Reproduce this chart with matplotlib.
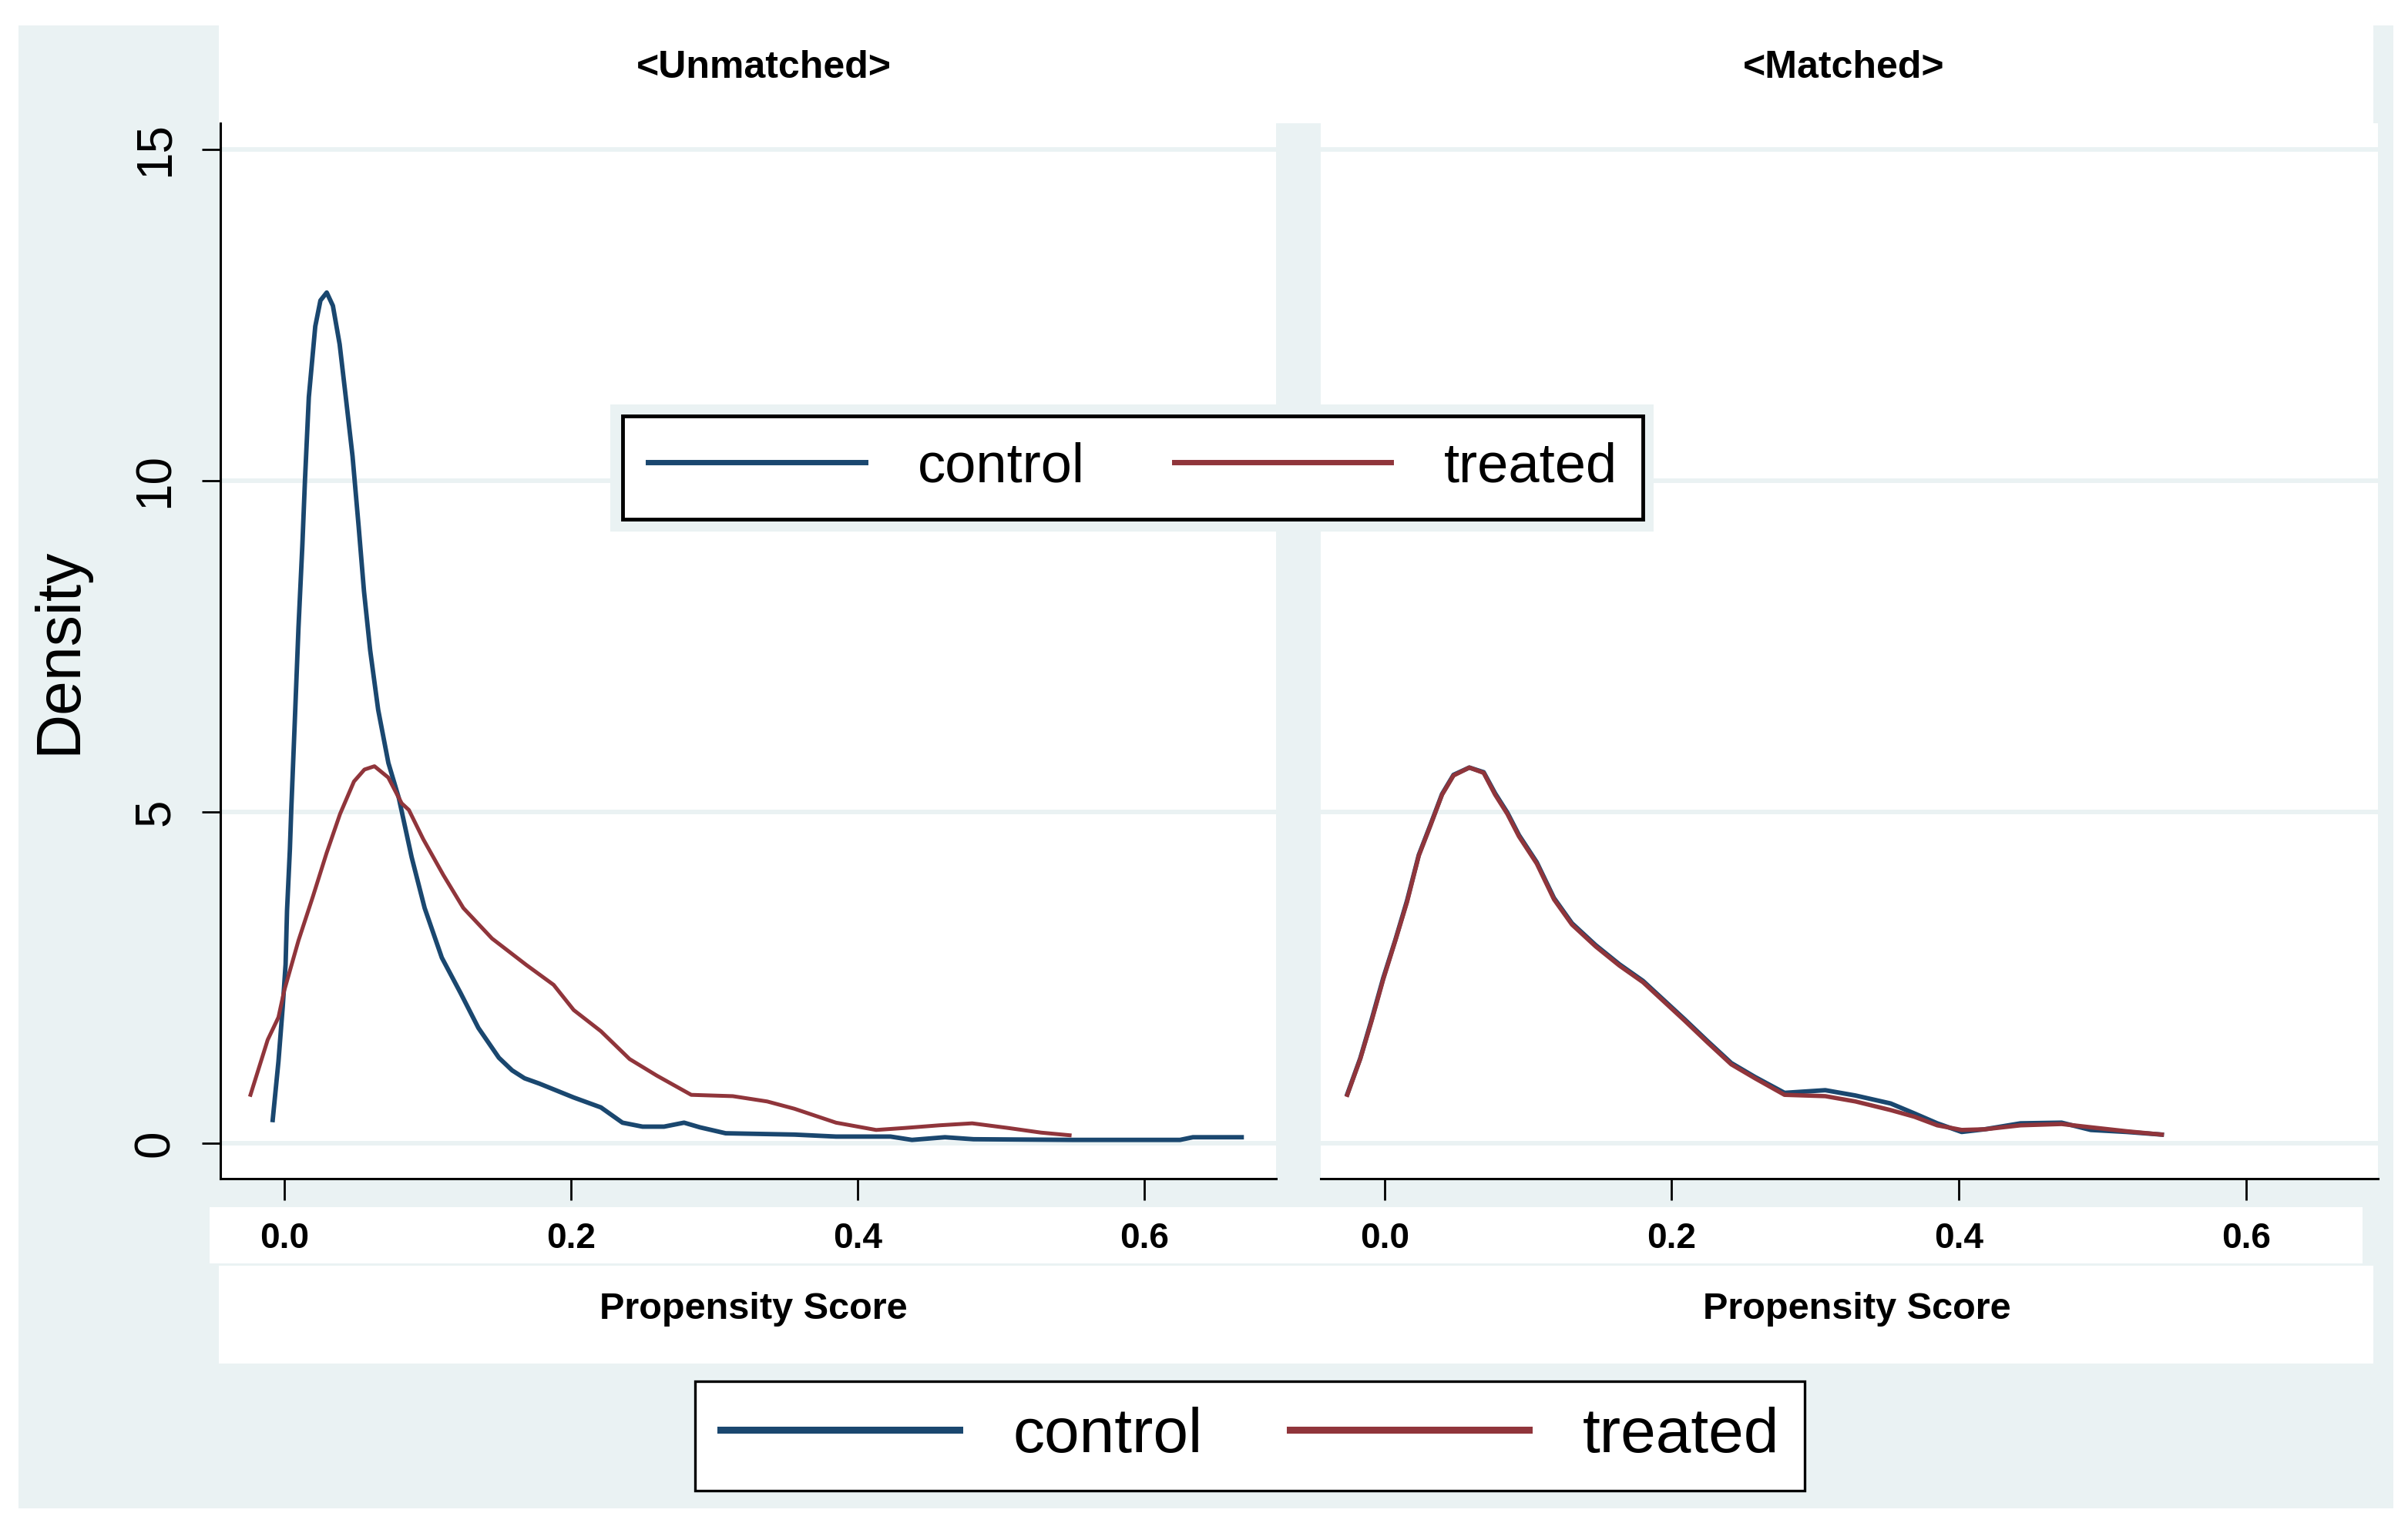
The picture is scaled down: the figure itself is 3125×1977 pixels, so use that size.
import matplotlib
matplotlib.use("Agg")
import matplotlib.pyplot as plt
from matplotlib.patches import Rectangle

plt.rcParams['font.family'] = ['Liberation Sans', 'DejaVu Sans']

# --- data ----------------------------------------------------------------
unm_ctrl_x = [-0.008, -0.004, -0.001, 0.001, 0.002, 0.004, 0.005, 0.0074, 0.010,
              0.0127, 0.0145, 0.0172, 0.0217, 0.0253, 0.0297, 0.034, 0.0387, 0.043,
              0.0477, 0.052, 0.0557, 0.060, 0.0656, 0.0727, 0.080, 0.0889, 0.098,
              0.110, 0.123, 0.1355, 0.1498, 0.159, 0.1677, 0.178, 0.202, 0.221,
              0.236, 0.250, 0.265, 0.279, 0.290, 0.308, 0.356, 0.385, 0.423, 0.438,
              0.461, 0.481, 0.550, 0.625, 0.634, 0.668]
unm_ctrl_y = [0.35, 1.23, 2.06, 2.70, 3.51, 4.44, 5.06, 6.36, 7.79,
              9.03, 10.0, 11.26, 12.33, 12.72, 12.84, 12.64, 12.06, 11.26,
              10.37, 9.30, 8.33, 7.44, 6.54, 5.74, 5.21, 4.32, 3.55,
              2.80, 2.27, 1.74, 1.29, 1.10, 0.98, 0.90, 0.69, 0.54,
              0.31, 0.25, 0.25, 0.31, 0.24, 0.15, 0.13, 0.10, 0.10, 0.05,
              0.09, 0.06, 0.05, 0.05, 0.09, 0.09]

unm_trt_x = [-0.0235, -0.0115, -0.004, 0.0, 0.010, 0.020, 0.0296, 0.039, 0.0487,
             0.056, 0.063, 0.0726, 0.082, 0.087, 0.097, 0.111, 0.125, 0.145,
             0.169, 0.188, 0.202, 0.221, 0.241, 0.260, 0.284, 0.313, 0.337,
             0.356, 0.385, 0.413, 0.433, 0.457, 0.480, 0.505, 0.528, 0.548]
unm_trt_y = [0.73, 1.56, 1.90, 2.30, 3.06, 3.72, 4.38, 4.97, 5.46,
             5.64, 5.69, 5.52, 5.13, 5.03, 4.59, 4.05, 3.55, 3.09,
             2.69, 2.39, 2.01, 1.69, 1.27, 1.02, 0.73, 0.71, 0.63,
             0.52, 0.31, 0.20, 0.23, 0.27, 0.30, 0.23, 0.16, 0.12]

mat_trt_x = [-0.026, -0.017, -0.009, -0.001, 0.0075, 0.0156, 0.0238, 0.032, 0.040,
             0.048, 0.059, 0.069, 0.077, 0.0855, 0.0936, 0.106, 0.118, 0.1305,
             0.147, 0.1636, 0.180, 0.1965, 0.209, 0.225, 0.2415, 0.258, 0.2786,
             0.307, 0.328, 0.3525, 0.369, 0.385, 0.402, 0.418, 0.443, 0.4716,
             0.492, 0.517, 0.5414]
mat_trt_y = [0.73, 1.27, 1.85, 2.47, 3.06, 3.64, 4.34, 4.80, 5.26,
             5.55, 5.67, 5.59, 5.26, 4.97, 4.63, 4.22, 3.68, 3.30,
             2.97, 2.68, 2.43, 2.10, 1.85, 1.52, 1.19, 0.98, 0.73,
             0.71, 0.63, 0.50, 0.40, 0.27, 0.20, 0.21, 0.27, 0.29,
             0.24, 0.18, 0.13]

mat_ctrl_x = [-0.026, -0.017, -0.009, -0.001, 0.0075, 0.0156, 0.0238, 0.032, 0.040,
              0.048, 0.059, 0.069, 0.077, 0.0855, 0.0936, 0.106, 0.118, 0.1305,
              0.147, 0.1636, 0.180, 0.1965, 0.209, 0.225, 0.2415, 0.258, 0.2786,
              0.307, 0.328, 0.3525, 0.369, 0.385, 0.402, 0.418, 0.443, 0.4716,
              0.492, 0.517, 0.5414]
mat_ctrl_y = [0.74, 1.28, 1.87, 2.49, 3.07, 3.66, 4.35, 4.81, 5.27,
              5.56, 5.67, 5.60, 5.28, 4.99, 4.65, 4.24, 3.70, 3.32,
              2.99, 2.70, 2.45, 2.12, 1.87, 1.54, 1.21, 1.00, 0.76,
              0.80, 0.72, 0.60, 0.45, 0.30, 0.17, 0.21, 0.30, 0.31,
              0.20, 0.17, 0.13]

panels = ["<Unmatched>", "<Matched>"]
series_names = ["control", "treated"]
x_ticks = [0.0, 0.2, 0.4, 0.6]
x_ticklabels = ["0.0", "0.2", "0.4", "0.6"]
y_ticks = [0, 5, 10, 15]
y_ticklabels = ["0", "5", "10", "15"]

NAVY = "#1a476f"
MAROON = "#90353b"
BLUISH = "#eaf2f3"

W, H = 3125, 1977
fig = plt.figure(figsize=(W / 100, H / 100), dpi=100, facecolor="white")


def box(x0, y0, x1, y1):
    return [x0 / W, 1 - y1 / H, (x1 - x0) / W, (y1 - y0) / H]


def band(x0, y0, x1, y1, color, z=-5):
    l, b, w, h = box(x0, y0, x1, y1)
    fig.add_artist(Rectangle((l, b), w, h, transform=fig.transFigure,
                             facecolor=color, edgecolor="none", zorder=z))


# Stata-style graph region and white bands
band(24, 33, 3106, 1958, BLUISH, z=-10)
band(284, 33, 3080, 160, "white")
band(272, 1567, 3066, 1640, "white")
band(284, 1643, 3080, 1770, "white")

ax1 = fig.add_axes(box(286, 160, 1656, 1530))
ax2 = fig.add_axes(box(1714, 160, 3086, 1530))

l1, = ax1.plot(unm_ctrl_x, unm_ctrl_y, color=NAVY, lw=4.2, solid_joinstyle="round")
l2, = ax1.plot(unm_trt_x, unm_trt_y, color=MAROON, lw=3.6, solid_joinstyle="round")
ax2.plot(mat_ctrl_x, mat_ctrl_y, color=NAVY, lw=4.2, solid_joinstyle="round")
ax2.plot(mat_trt_x, mat_trt_y, color=MAROON, lw=4.0, solid_joinstyle="round")

for ax, title, tx in [(ax1, panels[0], 991), (ax2, panels[1], 2393)]:
    ax.set_facecolor("white")
    ax.set_xlim(-0.0445, 0.692)
    ax.set_ylim(-0.535, 15.395)
    ax.set_yticks(y_ticks)
    ax.grid(axis="y", color=BLUISH, lw=4.3)
    ax.set_axisbelow(True)
    for s in ["top", "right", "left"]:
        ax.spines[s].set_visible(False)
    ax.spines["bottom"].set_linewidth(2.2)
    ax.spines["bottom"].set_color("black")
    ax.set_xticks(x_ticks, x_ticklabels, fontsize=33, fontweight="bold")
    ax.tick_params(axis="x", direction="out", length=20, width=2, pad=20, color="black")
    ax.set_xlabel("Propensity Score", fontsize=35, fontweight="bold", va="center")
    fig.text(tx / W, 1 - 88 / H, title, ha="center", va="center",
             fontsize=36, fontweight="bold")

ax1.xaxis.set_label_coords(0.505, -0.124)
ax2.xaxis.set_label_coords(0.507, -0.124)

ax1.spines["left"].set_visible(True)
ax1.spines["left"].set_linewidth(2.2)
ax1.set_yticks(y_ticks, y_ticklabels, fontsize=46, rotation=90, va="center")
ax1.tick_params(axis="y", direction="out", length=17, width=2, pad=22, color="black")
ax1.set_ylabel("Density", fontsize=58, rotation=90, va="center", ha="center")
ax1.yaxis.set_label_coords(-0.152, 0.5)
ax2.tick_params(axis="y", left=False, labelleft=False)

# legend inside the graph (drawn over both panels)
band(792, 525, 2146, 690, BLUISH, z=4)
leg1 = fig.legend([l1, l2], series_names, loc="center",
                  bbox_to_anchor=(1470 / W, 1 - 607 / H), ncol=2, fontsize=52,
                  handlelength=3.9, handletextpad=0.95, columnspacing=1.6,
                  borderpad=0.46, fancybox=False, edgecolor="black", framealpha=1)
leg1.get_frame().set_linewidth(3.5)
leg1.set_zorder(5)
for ln in leg1.get_lines():
    ln.set_linewidth(5)

leg2 = fig.legend([l1, l2], series_names, loc="center",
                  bbox_to_anchor=(1622 / W, 1 - 1864 / H), ncol=2, fontsize=59,
                  handlelength=3.78, handletextpad=0.85, columnspacing=1.39,
                  borderpad=0.4, fancybox=False, edgecolor="black", framealpha=1)
leg2.get_frame().set_linewidth(2.4)
for ln in leg2.get_lines():
    ln.set_linewidth(6.5)

fig.savefig("out.png", dpi=100, facecolor="white")
